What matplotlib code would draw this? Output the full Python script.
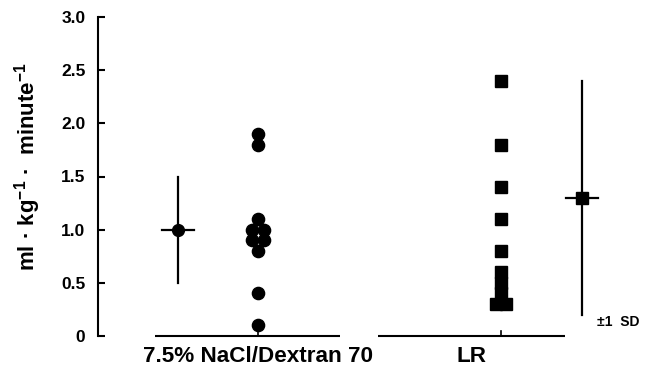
import matplotlib
matplotlib.use("Agg")
import matplotlib.pyplot as plt

plt.rcParams['font.family'] = ['Liberation Sans', 'DejaVu Sans']
plt.rcParams['mathtext.fontset'] = 'custom'
plt.rcParams['mathtext.rm'] = 'Liberation Sans:bold'
plt.rcParams['mathtext.bf'] = 'Liberation Sans:bold'

# ---- data ----
groups = ["7.5% NaCl/Dextran 70", "LR"]
nacl_values = [1.9, 1.8, 1.1, 1.0, 1.0, 0.9, 0.9, 0.8, 0.4, 0.1]
lr_values = [2.4, 1.8, 1.4, 1.1, 0.8, 0.6, 0.5, 0.4, 0.3, 0.3]
nacl_mean, nacl_sd = 1.0, 0.5
lr_mean, lr_sd_low, lr_sd_high = 1.3, 0.2, 2.4
yticks = [0, 0.5, 1.0, 1.5, 2.0, 2.5, 3.0]
ytick_labels = ["0", "0.5", "1.0", "1.5", "2.0", "2.5", "3.0"]

# ---- layout (not data) ----
nacl_offsets = [0, 0, 0, -0.025, 0.025, -0.025, 0.025, 0, 0, 0]
lr_offsets = [0, 0, 0, 0, 0, 0, 0, 0, -0.022, 0.022]
group_x = [1.0, 2.0]
label_x = [1.0, 1.877]
summary_x = [0.67, 2.333]
segments = [(0.576, 1.337), (1.494, 2.263)]
half_bar = 0.065

fig = plt.figure(figsize=(6.65, 3.73), dpi=100)
ax = fig.add_axes([98/665, 37/373, 1 - 98/665, (336-17)/373])
ax.set_xlim(0.342, 2.675)
ax.set_ylim(0, 3.0)

for s in ["top", "right", "bottom"]:
    ax.spines[s].set_visible(False)
ax.spines["left"].set_linewidth(1.5)
ax.set_xticks([])
ax.set_yticks(yticks)
ax.set_yticklabels(ytick_labels, fontsize=12.5, fontweight="bold")
ax.tick_params(axis="y", direction="in", length=5, width=1.5, pad=9)

# x-axis segments with ticks
for (a, b), gx, lx, name in zip(segments, group_x, label_x, groups):
    ax.plot([a, b], [0, 0], color="black", lw=1.5, clip_on=False, solid_capstyle="butt")
    ax.plot([gx, gx], [0, 0.05], color="black", lw=1.2, clip_on=False)
    ax.text(lx, -0.19, name, ha="center", va="center",
            fontsize=16.2, fontweight="bold", clip_on=False)

# individual points
ax.plot([group_x[0] + o for o in nacl_offsets], nacl_values, "o",
        color="black", ms=8.8, clip_on=False, zorder=3)
ax.plot([group_x[1] + o for o in lr_offsets], lr_values, "s",
        color="black", ms=8.3, clip_on=False, zorder=3)

# mean +/- SD
ax.plot([summary_x[0]] * 2, [nacl_mean - nacl_sd, nacl_mean + nacl_sd], color="black", lw=1.6)
ax.plot([summary_x[0] - half_bar, summary_x[0] + half_bar], [nacl_mean] * 2, color="black", lw=1.6)
ax.plot([summary_x[0]], [nacl_mean], "o", color="black", ms=8.5)

ax.plot([summary_x[1]] * 2, [lr_sd_low, lr_sd_high], color="black", lw=1.6)
ax.plot([summary_x[1] - half_bar, summary_x[1] + half_bar], [lr_mean] * 2, color="black", lw=1.6)
ax.plot([summary_x[1]], [lr_mean], "s", color="black", ms=8)

ax.text(2.395, 0.13, "±1  SD", ha="left", va="center", fontsize=10, fontweight="bold")

ax.set_ylabel("ml · kg$^{\\mathbf{-1}}$ ·  minute$^{\\mathbf{-1}}$", fontsize=16, fontweight="bold")
ax.yaxis.set_label_coords(-0.097, 0.53)

fig.savefig("out.png", dpi=100)
